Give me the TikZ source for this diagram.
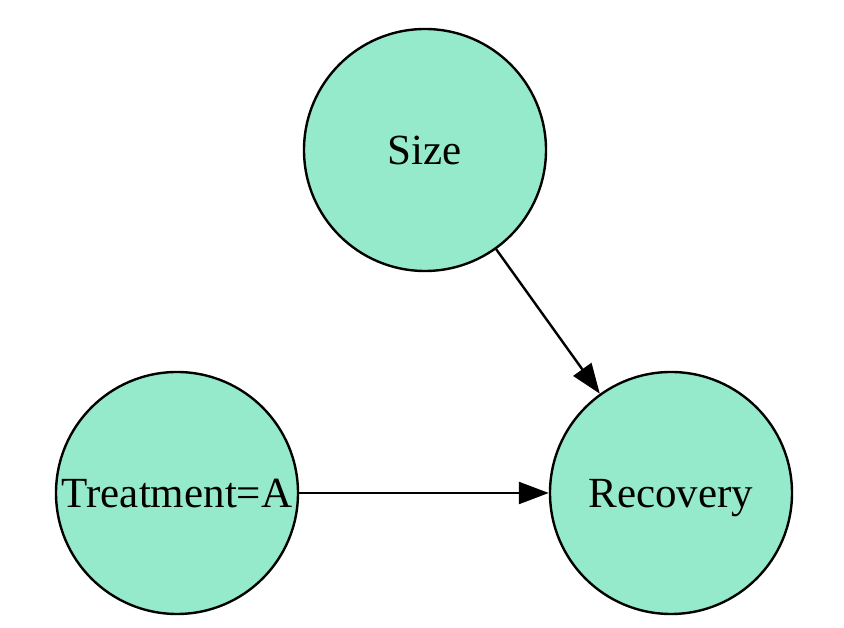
\documentclass[tikz,border=0pt]{standalone}
\usepackage{fontspec}
\setmainfont{Liberation Serif}
\usepackage{tikz}
\usetikzlibrary{arrows.meta}
\usetikzlibrary{positioning}
\definecolor{nodegreen}{RGB}{150,234,204}

\begin{document}
\begin{tikzpicture}[x = 1pt, y = 1pt, var node/.style={circle,fill=nodegreen,draw=black,line width=2.4pt,minimum size=242pt,inner sep=0pt,text depth=0pt,font=\fontsize{43}{50}\selectfont}, edge/.style={line width=2.4pt,-{Triangle[length=30pt,width=22pt]}}]
      \useasboundingbox (0, 0) rectangle (844, 628);
      \node[var node] (size) at (425, 478) {Size};
      \node[var node] (treat) at (177, 135) {Treatment=A};
      \node[var node] (recov) at (671, 135) {Recovery};
      \draw[edge] (size) --  (recov);
      \draw[edge] (treat) --  (recov);
    \end{tikzpicture}
\end{document}
